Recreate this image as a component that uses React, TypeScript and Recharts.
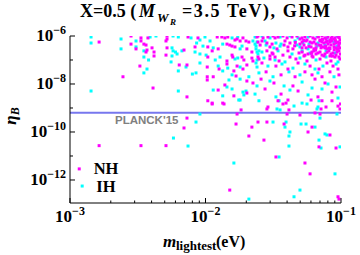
import { ScatterChart, Scatter, XAxis, YAxis, ReferenceLine } from "recharts"

// points: [m_lightest (eV), eta_B]
const NH_POINTS: [number, number][] = [
    [0.00164, 5.6e-7], [0.00282, 1e-6], [0.00334, 8.3e-7], [0.00334, 6.2e-7], [0.00376, 8.3e-7],
    [0.0052, 1e-6], [0.0052, 7.5e-7], [0.00511, 6.2e-7], [0.00282, 4.6e-7], [0.00307, 2.9e-7],
    [0.00351, 4.6e-7], [0.00364, 4.2e-7], [0.0037, 2.6e-7], [0.00403, 3.2e-7], [0.00417, 2.15e-7],
    [0.00364, 2.15e-7], [0.0052, 3.2e-7], [0.00511, 1.6e-7], [0.00417, 1.47e-7], [0.00328, 5.6e-8],
    [0.00246, 2e-8], [0.0041, 6.8e-9], [0.00164, 2.7e-11], [0.00117, 2.9e-12], [0.00334, 2.7e-11],
    [0.00511, 2.7e-11], [0.0151, 3.8e-13], [0.0104, 2e-9], [0.0112, 1.47e-9], [0.0137, 1.47e-9],
    [0.0073, 3.8e-10], [0.00694, 1.47e-10], [0.0168, 2.15e-10], [0.0171, 5.6e-10], [0.0183, 8.3e-10],
    [0.0209, 6.8e-11],
    // lower right
    [0.0406, 2.15e-9], [0.0601, 2.15e-9], [0.0724, 2e-9], [0.0858, 2e-9], [0.0373, 1.47e-9],
    [0.0393, 1.6e-9], [0.095, 1.2e-9], [0.099, 1.47e-9], [0.0289, 1.1e-9], [0.0284, 9.1e-10],
    [0.0413, 8.3e-10], [0.0712, 9.1e-10], [0.0775, 1.1e-9], [0.0983, 9.1e-10], [0.04, 5.6e-10],
    [0.0498, 5.1e-10], [0.0643, 6.2e-10], [0.07, 5.6e-10], [0.022, 1.6e-10], [0.0244, 2.6e-10],
    [0.0284, 2.6e-10], [0.038, 2.15e-10], [0.0571, 1e-10], [0.0611, 1.6e-10], [0.0829, 7.5e-11],
    [0.027, 4.6e-11], [0.0688, 2.4e-11], [0.0919, 2.15e-11], [0.0331, 9.1e-12], [0.0542, 5.1e-12],
    [0.0591, 1.8e-12], [0.095, 2e-13], [0.0966, 1.6e-13], [0.0343, 2e-9],
    // middle band
    [0.00743, 9.1e-7], [0.0088, 8.3e-7], [0.0122, 9.1e-7], [0.0132, 9.1e-7], [0.0139, 8.3e-7],
    [0.0146, 9.1e-7], [0.0165, 6.8e-7], [0.0171, 7.5e-7], [0.018, 6.2e-7], [0.0189, 8.3e-7],
    [0.0199, 6.2e-7], [0.0209, 5.6e-7], [0.024, 9.1e-7], [0.0244, 5.6e-7], [0.00837, 3.5e-7],
    [0.0104, 3.5e-7], [0.0124, 2.9e-7], [0.0144, 4.6e-7], [0.0151, 4.2e-7], [0.0157, 3.8e-7],
    [0.0165, 3.5e-7], [0.0202, 2.9e-7], [0.022, 2.15e-7], [0.00694, 2.6e-7], [0.0112, 2.4e-7],
    [0.0104, 1.33e-7], [0.0157, 1.6e-7], [0.0159, 1.33e-7], [0.0186, 1.33e-7], [0.0192, 1e-7],
    [0.022, 1.2e-7], [0.0224, 9.1e-8], [0.0248, 1.1e-7], [0.0144, 9.1e-8], [0.0064, 6.2e-8],
    [0.0073, 6.2e-8], [0.0103, 5.1e-8], [0.0144, 6.8e-8], [0.0171, 5.6e-8], [0.0189, 4.2e-8],
    [0.0202, 6.2e-8], [0.0126, 4.2e-8], [0.0162, 3.5e-8], [0.0168, 2.15e-8], [0.0103, 2e-8],
    [0.0103, 1.47e-8], [0.0114, 2e-8], [0.0202, 1.33e-8], [0.0224, 1.1e-8], [0.0139, 9.1e-9],
    [0.0124, 5.6e-9], [0.0073, 2.9e-9], [0.0162, 3.2e-9], [0.0202, 4.2e-9], [0.0112, 1.6e-9],
    [0.0134, 1.6e-9],
    // dense upper right
    [0.0244, 1e-6], [0.0266, 8.3e-7], [0.0289, 9.1e-7], [0.0315, 1e-6], [0.0326, 8.3e-7],
    [0.0343, 9.1e-7], [0.0373, 1e-6], [0.04, 8.3e-7], [0.0435, 9.1e-7], [0.0473, 1e-6],
    [0.0516, 8.3e-7], [0.0542, 9.1e-7], [0.0591, 1e-6], [0.0621, 8.3e-7], [0.0676, 9.1e-7],
    [0.0724, 1e-6], [0.0762, 8.3e-7], [0.0802, 9.1e-7], [0.0858, 1e-6], [0.0903, 8.3e-7],
    [0.095, 9.1e-7], [0.0498, 7.5e-7], [0.0561, 6.8e-7], [0.0643, 7.5e-7], [0.07, 6.8e-7],
    [0.0775, 7.5e-7], [0.0829, 6.8e-7], [0.0888, 7.5e-7], [0.0983, 6.8e-7],
    [0.0261, 6.2e-7], [0.0284, 5.1e-7], [0.031, 4.6e-7], [0.0386, 6.2e-7], [0.042, 5.1e-7],
    [0.0498, 4.6e-7], [0.0552, 6.2e-7], [0.0611, 5.1e-7], [0.0654, 4.6e-7], [0.07, 6.2e-7],
    [0.0749, 5.1e-7], [0.0802, 4.6e-7], [0.0858, 6.2e-7], [0.0919, 5.1e-7], [0.0966, 4.6e-7],
    [0.0516, 5.6e-7], [0.0591, 5.6e-7], [0.0632, 5.6e-7], [0.0724, 5.6e-7], [0.0775, 5.6e-7],
    [0.0829, 5.6e-7], [0.0888, 4.6e-7], [0.095, 5.6e-7], [0.099, 5.1e-7],
    [0.0253, 4.2e-7], [0.0299, 3.5e-7], [0.0337, 2.9e-7], [0.038, 4.2e-7], [0.0406, 3.5e-7],
    [0.0442, 2.9e-7], [0.0533, 4.2e-7], [0.0601, 3.5e-7], [0.0632, 2.9e-7], [0.0688, 4.2e-7],
    [0.0736, 3.5e-7], [0.0788, 2.9e-7], [0.0843, 4.2e-7], [0.0888, 3.5e-7], [0.095, 2.9e-7],
    [0.0516, 3.2e-7], [0.0552, 3.2e-7], [0.0654, 3.2e-7], [0.0712, 3.2e-7], [0.0762, 3.2e-7],
    [0.0815, 3.2e-7], [0.0919, 3.2e-7], [0.0983, 3.2e-7],
    [0.0284, 2.4e-7], [0.031, 1.96e-7], [0.0373, 1.6e-7], [0.0406, 2.4e-7], [0.049, 1.96e-7],
    [0.0542, 1.6e-7], [0.0632, 2.4e-7], [0.0676, 1.96e-7], [0.0724, 1.6e-7], [0.0815, 2.4e-7],
    [0.0873, 1.96e-7], [0.0919, 1.6e-7], [0.0966, 2.4e-7],
    [0.0516, 2.15e-7], [0.0571, 1.78e-7], [0.0611, 2.15e-7], [0.0654, 1.78e-7], [0.07, 2.15e-7],
    [0.0762, 1.78e-7], [0.0843, 1.78e-7], [0.0934, 2.15e-7], [0.099, 1.78e-7],
    [0.0299, 1.47e-7], [0.0326, 1.33e-7], [0.0315, 1.78e-7],
    [0.0533, 1.47e-7], [0.0611, 1.47e-7], [0.0749, 1.47e-7], [0.0829, 1.47e-7], [0.0966, 1.33e-7],
    [0.0244, 1.33e-7], [0.0299, 1.1e-7], [0.0349, 9.1e-8], [0.042, 1.33e-7], [0.0465, 1.1e-7],
    [0.0561, 9.1e-8], [0.0621, 1.33e-7], [0.07, 1.1e-7], [0.0843, 9.1e-8], [0.0903, 1.33e-7],
    [0.0983, 1.1e-7],
    [0.0261, 7.5e-8], [0.0331, 5.6e-8], [0.0406, 4.2e-8], [0.0482, 7.5e-8], [0.0591, 5.6e-8],
    [0.0688, 4.2e-8], [0.0788, 7.5e-8], [0.0873, 5.6e-8], [0.095, 4.2e-8],
    [0.028, 3.2e-8], [0.0361, 2.4e-8], [0.0458, 2e-8], [0.0542, 3.2e-8], [0.0611, 2.4e-8],
    [0.0724, 2e-8], [0.0829, 3.2e-8], [0.0966, 2.4e-8],
    [0.0257, 1.6e-8], [0.032, 1.1e-8], [0.0442, 8.3e-9], [0.0643, 1.6e-8], [0.0762, 1.1e-8],
    [0.0919, 7.5e-9],
    [0.0275, 6.2e-9], [0.0361, 3.8e-9], [0.0482, 5.1e-9], [0.0676, 2.9e-9], [0.0858, 4.6e-9],
    // solid magenta corner
    [0.068, 9.5e-7], [0.073, 7.2e-7], [0.079, 6.0e-7], [0.085, 7.9e-7], [0.091, 6.4e-7],
    [0.097, 8.6e-7], [0.071, 4.0e-7], [0.077, 3.7e-7], [0.083, 3.0e-7], [0.089, 2.7e-7],
    [0.096, 3.8e-7], [0.065, 2.6e-7], [0.058, 3.7e-7], [0.053, 6.5e-7], [0.046, 5.4e-7],
    [0.0935, 2.8e-7], [0.0865, 1.45e-7], [0.079, 2.1e-7], [0.0605, 1.9e-7], [0.0455, 3.9e-7],
]

const IH_POINTS: [number, number][] = [
    [0.00143, 9.1e-7], [0.00143, 5.1e-7], [0.00143, 5.1e-9], [0.00238, 7.5e-7], [0.00307, 6.2e-7],
    [0.0039, 9.1e-7], [0.00431, 1e-6], [0.00307, 3.5e-7], [0.00238, 2.9e-7], [0.00351, 2.4e-7],
    [0.00351, 1.33e-7], [0.0038, 1e-7], [0.0037, 4.2e-8], [0.00351, 2.9e-8], [0.00123, 5.6e-13],
    [0.0058, 5.6e-11], [0.00743, 2.6e-11], [0.0162, 5.1e-12], [0.0209, 1.6e-13], [0.0176, 2.15e-9],
    [0.0091, 5.6e-10], [0.00851, 2.6e-10], [0.0063, 5.1e-9],
    // lower right
    [0.0248, 2e-9], [0.0349, 2e-9], [0.0688, 2e-9], [0.045, 1.21e-9], [0.0516, 1.6e-9],
    [0.0561, 1.47e-9], [0.0337, 9.1e-10], [0.0355, 8.3e-10], [0.0665, 9.1e-10], [0.0676, 1.1e-9],
    [0.07, 3.8e-10], [0.0934, 5.6e-10], [0.0315, 2.6e-10], [0.0393, 2.6e-10], [0.0386, 1.6e-10],
    [0.042, 1e-10], [0.0507, 2.15e-10], [0.0552, 2.15e-10], [0.0643, 1.6e-10], [0.0413, 6.8e-11],
    [0.0788, 7.5e-11], [0.0762, 8.3e-11], [0.0688, 4.6e-11], [0.0413, 2.6e-11], [0.0712, 2.15e-11],
    [0.0983, 2.4e-11], [0.0349, 9.1e-12], [0.0903, 1.8e-12], [0.0498, 3.8e-13], [0.045, 2e-13],
    // middle band
    [0.00576, 1e-6], [0.0063, 9.1e-7], [0.00782, 8.3e-7], [0.0091, 6.8e-7], [0.00991, 9.1e-7],
    [0.0108, 6.2e-7], [0.0157, 8.3e-7], [0.0173, 9.1e-7], [0.0224, 6.2e-7], [0.0232, 4.6e-7],
    [0.0236, 2.9e-7], [0.0086, 5.1e-7], [0.00958, 3.8e-7], [0.0114, 3.2e-7], [0.0134, 4.6e-7],
    [0.018, 2.9e-7], [0.0186, 3.8e-7], [0.024, 2.15e-7], [0.0248, 2.4e-7], [0.00566, 3.2e-7],
    [0.00576, 2.4e-7], [0.006, 2.15e-7], [0.00617, 1.78e-7], [0.0067, 2.4e-7], [0.00566, 1.47e-7],
    [0.00837, 2.15e-7], [0.0091, 1.78e-7], [0.0101, 1.6e-7], [0.0128, 1.33e-7], [0.0165, 1.1e-7],
    [0.0173, 1.21e-7], [0.024, 1e-7], [0.0118, 1e-7], [0.00557, 8.3e-8], [0.00718, 5.1e-8],
    [0.0091, 7.5e-8], [0.0124, 5.6e-8], [0.0146, 4.6e-8], [0.018, 5.1e-8], [0.024, 5.1e-8],
    [0.0134, 3.5e-8], [0.0157, 2.4e-8], [0.018, 1.6e-8], [0.0063, 3.5e-8], [0.008, 2.6e-8],
    [0.00851, 2.9e-8], [0.0149, 1.47e-8], [0.0209, 2e-8], [0.024, 8.3e-9], [0.0144, 7.5e-9],
    [0.0157, 6.2e-9], [0.0114, 5.6e-9], [0.0134, 3.2e-9], [0.0189, 4.6e-9], [0.0192, 3.5e-9],
    [0.0232, 3.8e-9], [0.018, 2.15e-9], [0.0199, 5.1e-9],
    // dense upper right
    [0.0232, 9.1e-7], [0.0261, 1e-6], [0.0299, 8.3e-7], [0.0355, 9.1e-7], [0.042, 1e-6],
    [0.0482, 8.3e-7], [0.0571, 9.1e-7], [0.0665, 1e-6], [0.0788, 8.3e-7], [0.0934, 1e-6],
    [0.024, 5.6e-7], [0.0275, 6.2e-7], [0.0331, 5.1e-7], [0.0361, 4.6e-7], [0.0458, 6.2e-7],
    [0.0524, 5.1e-7], [0.0581, 4.6e-7], [0.0676, 5.1e-7], [0.0829, 6.2e-7], [0.0888, 5.6e-7],
    [0.0236, 3.8e-7], [0.028, 4.2e-7], [0.032, 3.2e-7], [0.0355, 3.8e-7], [0.0473, 4.2e-7],
    [0.0498, 3.5e-7], [0.0571, 2.9e-7], [0.0665, 3.8e-7], [0.0762, 4.2e-7], [0.0934, 3.8e-7],
    [0.0244, 1.78e-7], [0.0261, 2.15e-7], [0.0343, 2.4e-7], [0.0435, 1.78e-7], [0.0516, 2.4e-7],
    [0.0591, 1.96e-7], [0.0775, 2.4e-7], [0.0903, 1.96e-7],
    [0.027, 1.21e-7], [0.0326, 1e-7], [0.0386, 8.3e-8], [0.0498, 1.21e-7], [0.0654, 1e-7],
    [0.0775, 1.33e-7], [0.095, 8.3e-8],
    [0.0236, 7.5e-8], [0.0289, 5.6e-8], [0.0367, 6.8e-8], [0.0442, 4.6e-8], [0.0542, 6.8e-8],
    [0.0643, 4.2e-8], [0.0736, 5.6e-8], [0.0919, 6.8e-8],
    [0.0248, 2.9e-8], [0.0315, 2e-8], [0.0413, 3.2e-8], [0.0498, 2.4e-8], [0.0676, 2.9e-8],
    [0.0888, 2e-8],
    [0.0299, 1.33e-8], [0.038, 8.3e-9], [0.0516, 1.21e-8], [0.0611, 6.8e-9], [0.0802, 1e-8],
    [0.0983, 7.5e-9],
    [0.0331, 2.9e-9], [0.042, 5.6e-9], [0.0571, 3.5e-9], [0.0724, 6.2e-9], [0.095, 2.6e-9],
]

const PLANCK_ETA = 6.3e-10

const X_TICKS = [
    0.001, 0.002, 0.003, 0.004, 0.005, 0.006, 0.007, 0.008, 0.009,
    0.01, 0.02, 0.03, 0.04, 0.05, 0.06, 0.07, 0.08, 0.09, 0.1,
]
const Y_TICKS = [1e-12, 1e-11, 1e-10, 1e-9, 1e-8, 1e-7, 1e-6]

const SERIF = "'Liberation Serif', 'Times New Roman', serif"
const SANS = "'Liberation Sans', Arial, sans-serif"

const nhData = NH_POINTS.map(([m, eta]) => ({ m, eta }))
const ihData = IH_POINTS.map(([m, eta]) => ({ m, eta }))

function exponentOf(v: number) {
    return Math.round(Math.log10(v))
}

function isDecade(v: number) {
    const e = Math.log10(v)
    return Math.abs(e - Math.round(e)) < 1e-6
}

function Power({ exp }: { exp: number }) {
    return (
        <>
            10
            <tspan dy={-7} fontSize={12}>{"\u2212" + Math.abs(exp)}</tspan>
        </>
    )
}

// eslint-disable-next-line @typescript-eslint/no-explicit-any
function BottomTick({ x, y, payload }: any) {
    const major = isDecade(payload.value)
    return (
        <g>
            <line x1={x} x2={x} y1={y} y2={y - (major ? 5 : 2.5)} stroke="#000" />
            {major && (
                <text x={x} y={y + 19} textAnchor="middle" fontFamily={SERIF} fontWeight="bold" fontSize={17} fill="#000">
                    <Power exp={exponentOf(payload.value)} />
                </text>
            )}
        </g>
    )
}

// eslint-disable-next-line @typescript-eslint/no-explicit-any
function TopTick({ x, y, payload }: any) {
    const major = isDecade(payload.value)
    return <line x1={x} x2={x} y1={y} y2={y + (major ? 5 : 2.5)} stroke="#000" />
}

// eslint-disable-next-line @typescript-eslint/no-explicit-any
function LeftTick({ x, y, payload }: any) {
    const e = exponentOf(payload.value)
    const labeled = e % 2 === 0
    return (
        <g>
            <line x1={x} x2={x + (labeled ? 5 : 3)} y1={y} y2={y} stroke="#000" />
            {labeled && (
                <text x={x - 4} y={y + 5} textAnchor="end" fontFamily={SERIF} fontWeight="bold" fontSize={17} fill="#000">
                    <Power exp={e} />
                </text>
            )}
        </g>
    )
}

// eslint-disable-next-line @typescript-eslint/no-explicit-any
function RightTick({ x, y, payload }: any) {
    const labeled = exponentOf(payload.value) % 2 === 0
    return <line x1={x} x2={x - (labeled ? 5 : 3)} y1={y} y2={y} stroke="#000" />
}

// eslint-disable-next-line @typescript-eslint/no-explicit-any
const squareShape = (fill: string) => (props: any) => (
    <rect x={props.cx - 1.5} y={props.cy - 1.5} width={3} height={3} fill={fill} />
)

// eslint-disable-next-line @typescript-eslint/no-explicit-any
function planckLabel(props: any) {
    const vb = props.viewBox || { x: 70, y: 113 }
    return (
        <text x={vb.x + 45} y={vb.y + 11} fontFamily={SANS} fontWeight="bold" fontSize={11.5} fill="#808080">
            PLANCK'15
        </text>
    )
}

export default function App() {
    return (
        <div style={{ position: "absolute", left: 0, top: 0, width: 360, height: 255, background: "#fff" }}>
            <ScatterChart width={360} height={255} margin={{ top: 36, right: 19, bottom: 0, left: 0 }}>
                <XAxis
                    xAxisId="bottom"
                    dataKey="m"
                    type="number"
                    scale="log"
                    domain={[0.001, 0.1]}
                    allowDataOverflow
                    ticks={X_TICKS}
                    interval={0}
                    height={52}
                    tickSize={0}
                    tickMargin={0}
                    tickLine={false}
                    tick={BottomTick}
                    stroke="#000"
                />
                <XAxis
                    xAxisId="top"
                    orientation="top"
                    dataKey="m"
                    type="number"
                    scale="log"
                    domain={[0.001, 0.1]}
                    allowDataOverflow
                    ticks={X_TICKS}
                    interval={0}
                    height={0}
                    tickSize={0}
                    tickMargin={0}
                    tickLine={false}
                    tick={TopTick}
                    stroke="#000"
                />
                <YAxis
                    yAxisId="left"
                    dataKey="eta"
                    type="number"
                    scale="log"
                    domain={[1.1e-13, 1e-6]}
                    allowDataOverflow
                    ticks={Y_TICKS}
                    interval={0}
                    width={70}
                    tickSize={0}
                    tickMargin={0}
                    tickLine={false}
                    tick={LeftTick}
                    stroke="#000"
                />
                <YAxis
                    yAxisId="right"
                    orientation="right"
                    dataKey="eta"
                    type="number"
                    scale="log"
                    domain={[1.1e-13, 1e-6]}
                    allowDataOverflow
                    ticks={Y_TICKS}
                    interval={0}
                    width={0}
                    tickSize={0}
                    tickMargin={0}
                    tickLine={false}
                    tick={RightTick}
                    stroke="#000"
                />
                <ReferenceLine
                    xAxisId="bottom"
                    yAxisId="left"
                    y={PLANCK_ETA}
                    stroke="#7777ee"
                    strokeWidth={2}
                    label={planckLabel}
                />
                <Scatter
                    name="IH"
                    xAxisId="bottom"
                    yAxisId="left"
                    data={ihData}
                    fill="#00ffff"
                    shape={squareShape("#00ffff")}
                    isAnimationActive={false}
                />
                <Scatter
                    name="NH"
                    xAxisId="bottom"
                    yAxisId="left"
                    data={nhData}
                    fill="#ff00ff"
                    shape={squareShape("#ff00ff")}
                    isAnimationActive={false}
                />
            </ScatterChart>
            <svg width={360} height={255} style={{ position: "absolute", left: 0, top: 0, pointerEvents: "none" }}>
                <g fontFamily={SERIF} fontWeight="bold" fill="#000">
                    <text x={80} y={17} fontSize={18}>X=0.5 (</text>
                    <text x={139} y={17} fontSize={18} fontStyle="italic">M</text>
                    <text x={157} y={22} fontSize={13} fontStyle="italic">W</text>
                    <text x={170} y={25} fontSize={9} fontStyle="italic">R</text>
                    <text x={182} y={17} fontSize={18} textLength={148} lengthAdjust="spacing">=3.5 TeV), GRM</text>

                    <text transform="translate(16,116) rotate(-90)" textAnchor="middle" fontSize={17}>
                        <tspan fontStyle="italic">η</tspan>
                        <tspan fontSize={12} dy={3} fontStyle="italic">B</tspan>
                    </text>

                    <text x={163} y={247} fontSize={17} fontStyle="italic">m</text>
                    <text x={176} y={250} fontSize={13}>lightest</text>
                    <text x={216} y={247} fontSize={16}>(eV)</text>

                    <text x={106} y={174} fontSize={16.5} textAnchor="middle">NH</text>
                    <text x={106} y={192} fontSize={16.5} textAnchor="middle">IH</text>
                </g>
            </svg>
        </div>
    )
}
